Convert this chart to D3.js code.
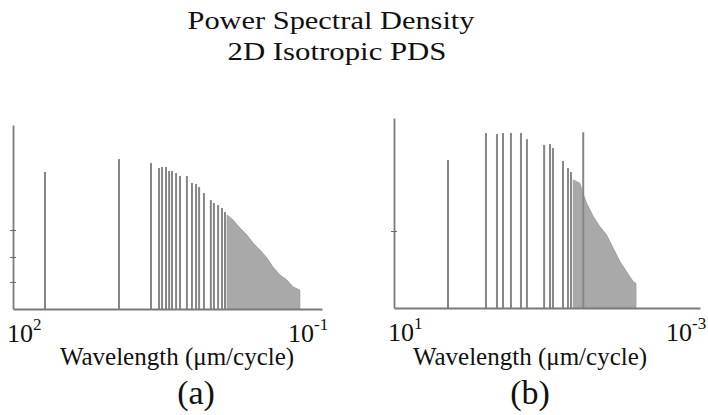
<!DOCTYPE html>
<html>
<head>
<meta charset="utf-8">
<script src="https://cdn.jsdelivr.net/npm/d3@7"></script>
<style>
  body { margin: 0; background: #fff; }
  svg text { font-family: "Liberation Serif", "Times New Roman", Times, serif !important; }
</style>
</head>
<body>
<svg id="chart" width="708" height="415"></svg>
<script>
// panel (a): wavelength (um/cycle) and relative power of the isolated lines
const linesAWave = [48.9, 9.35, 4.57, 3.82, 3.57, 3.27, 3.05, 2.86, 2.61, 2.39, 2.05, 1.83, 1.67, 1.56, 1.40, 1.20, 1.12, 1.02, 0.935, 0.875];
const linesAPow  = [0.745, 0.815, 0.793, 0.766, 0.772, 0.772, 0.75, 0.75, 0.739, 0.723, 0.723, 0.685, 0.679, 0.663, 0.63, 0.592, 0.576, 0.565, 0.549, 0.527];
// panel (a): envelope of the dense part
const denseAWave = [0.835, 0.731, 0.625, 0.535, 0.468, 0.40, 0.342, 0.299, 0.256, 0.219, 0.191, 0.164];
const denseAPow  = [0.511, 0.484, 0.44, 0.402, 0.359, 0.321, 0.277, 0.228, 0.185, 0.158, 0.12, 0.103];
const yTicksA = [0.147, 0.283, 0.429];

// panel (b)
const linesBWave = [1.97, 0.628, 0.451, 0.376, 0.296, 0.219, 0.183, 0.109, 0.0914, 0.0836, 0.0618, 0.0532, 0.0486, 0.0336];
const linesBPow  = [0.779, 0.921, 0.916, 0.921, 0.921, 0.921, 0.889, 0.858, 0.863, 0.842, 0.774, 0.737, 0.716, 0.925];
const denseBWave = [0.0453, 0.0409, 0.0371, 0.0336, 0.0303, 0.0248, 0.0203, 0.0166, 0.0136, 0.0111, 0.0091, 0.00745, 0.00687];
const denseBPow  = [0.674, 0.665, 0.656, 0.60, 0.551, 0.481, 0.428, 0.384, 0.314, 0.244, 0.191, 0.138, 0.13];
const yTicksB = [0.405];

const titles = ['Power Spectral Density', '2D Isotropic PDS'];
const xLabel = 'Wavelength (\u03bcm/cycle)';

const svg = d3.select('#chart');

svg.selectAll('.title').data(titles)
  .join('text')
    .attr('class', 'title')
    .attr('x', (d, i) => i ? 337 : 331)
    .attr('y', (d, i) => i ? 60 : 29)
    .attr('text-anchor', 'middle')
    .attr('font-size', 25)
    .attr('fill', '#111')
    .attr('textLength', (d, i) => i ? 219 : 287)
    .attr('lengthAdjust', 'spacingAndGlyphs')
    .text(d => d);

const drawPanel = (props) => {
  const { xDomain, xRange, yRange, yTicks, lineWave, linePow, denseWave, densePow,
          expLeft, expRight, tag, labelX, tagX } = props;

  const x = d3.scaleLog().domain(xDomain).range(xRange);
  const y = d3.scaleLinear().domain([0, 1]).range(yRange);
  const g = svg.append('g');

  // dense part of the spectrum, as a filled area under its envelope
  const dense = denseWave.map((w, i) => ({ w, p: densePow[i] }));
  g.append('path')
    .datum(dense)
    .attr('fill', '#a9a9a9')
    .attr('stroke', '#999')
    .attr('stroke-width', 0.8)
    .attr('d', d3.area()
      .x(d => x(d.w))
      .y0(y(0))
      .y1(d => y(d.p)));

  // isolated spectral lines
  g.selectAll('.line').data(lineWave.map((w, i) => ({ w, p: linePow[i] })))
    .join('line')
      .attr('class', 'line')
      .attr('x1', d => x(d.w)).attr('x2', d => x(d.w))
      .attr('y1', y(0)).attr('y2', d => y(d.p))
      .attr('stroke', '#868686')
      .attr('stroke-width', 2);

  // axes
  const xAxis = g.append('g')
    .attr('transform', `translate(0,${y(0)})`)
    .call(d3.axisBottom(x).tickValues([]).tickSizeOuter(0));
  xAxis.select('.domain').attr('stroke', '#7a7a7a').attr('stroke-width', 1.8);

  const yAxis = g.append('g')
    .attr('transform', `translate(${x(xDomain[0])},0)`)
    .call(d3.axisLeft(y).tickValues(yTicks).tickFormat('').tickSizeOuter(0));
  yAxis.select('.domain').attr('stroke', '#7a7a7a').attr('stroke-width', 1.8);
  yAxis.selectAll('.tick line').attr('x1', 3).attr('x2', -3).attr('stroke', '#666');

  // decade labels at both ends
  const ends = [
    { v: xDomain[0], e: expLeft, dx: -6 },
    { v: xDomain[1], e: expRight, dx: -34 }
  ];
  const lab = g.selectAll('.end').data(ends)
    .join('text')
      .attr('class', 'end')
      .attr('x', d => x(d.v) + d.dx)
      .attr('y', y(0) + 33)
      .attr('font-size', 26)
      .attr('fill', '#111');
  lab.append('tspan').text('10');
  lab.append('tspan')
    .attr('dy', -12)
    .attr('font-size', 17)
    .text(d => d.e);

  g.append('text')
    .attr('x', labelX)
    .attr('y', 365)
    .attr('text-anchor', 'middle')
    .attr('font-size', 25)
    .attr('fill', '#111')
    .text(xLabel);

  g.append('text')
    .attr('x', tagX)
    .attr('y', 404)
    .attr('text-anchor', 'middle')
    .attr('font-size', 34)
    .attr('fill', '#111')
    .text(tag);
};

drawPanel({
  xDomain: [100, 0.1], xRange: [13, 322], yRange: [309, 125], yTicks: yTicksA,
  lineWave: linesAWave, linePow: linesAPow, denseWave: denseAWave, densePow: denseAPow,
  expLeft: '2', expRight: '-1', tag: '(a)', labelX: 177, tagX: 196
});

drawPanel({
  xDomain: [10, 0.001], xRange: [394, 700], yRange: [308, 118], yTicks: yTicksB,
  lineWave: linesBWave, linePow: linesBPow, denseWave: denseBWave, densePow: denseBPow,
  expLeft: '1', expRight: '-3', tag: '(b)', labelX: 530, tagX: 530
});
</script>
</body>
</html>
